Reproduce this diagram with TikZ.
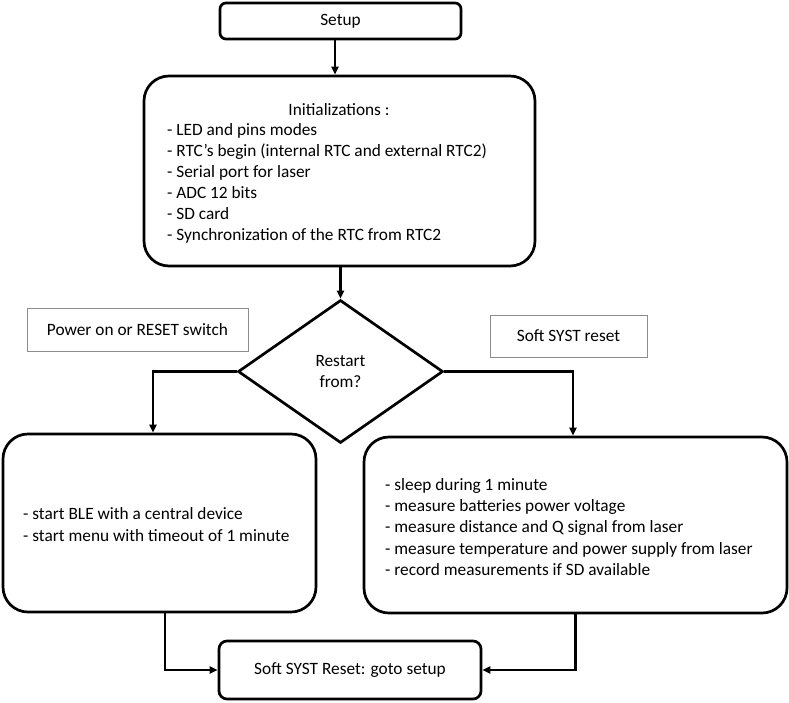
\documentclass[tikz,border=0pt]{standalone}
\usepackage{fontspec}
\setmainfont{Carlito}
\usetikzlibrary{shapes.geometric,arrows.meta}
\begin{document}
\begin{tikzpicture}[x=1pt,y=-1pt,
  every node/.style={font=\fontsize{17.3}{21.1}\selectfont, inner sep=0pt},
  rbox/.style={draw, line width=2.7pt, rounded corners=#1, fill=white},
  gbox/.style={draw=black!45, line width=0.9pt, fill=white},
  dia/.style={draw, line width=2.7pt, shape=diamond, aspect=1.43, minimum width=205pt, minimum height=143pt, align=center, fill=white},
  txt/.style={anchor=west, align=left},
  arr/.style={line width=2.7pt, -{Triangle[length=8pt,width=7pt]}}
]
\useasboundingbox (0,0) rectangle (789,702);

\node[rbox=6pt, minimum width=241pt, minimum height=36pt] (setup) at (340.5,21) {Setup};
\node[rbox=25pt, minimum width=391pt, minimum height=190pt] (init) at (339.5,171) {};
\node (inittitle) at (339,110) {Initializations :};
\node[txt] (initlist) at (167,183.5) {- LED and pins modes\\- RTC’s begin (internal RTC and external RTC2)\\- Serial port for laser\\- ADC 12 bits\\- SD card\\- Synchronization of the RTC from RTC2};

\node[gbox, minimum width=221pt, minimum height=43pt] (power) at (137.5,329.5) {Power on or RESET switch};
\node[gbox, minimum width=157pt, minimum height=42pt] (softlbl) at (568.5,336) {Soft SYST reset};
\node[dia] (dia) at (340.5,371.5) {Restart\\from?};

\node[rbox=25pt, minimum width=313pt, minimum height=178pt] (left) at (159.5,523) {};
\node[txt] (lefttext) at (23,524.5) {- start BLE with a central device\\- start menu with timeout of 1 minute};
\node[rbox=25pt, minimum width=423pt, minimum height=176pt] (right) at (575.5,525) {};
\node[txt] (righttext) at (385,527) {- sleep during 1 minute\\- measure batteries power voltage\\- measure distance and Q signal from laser\\- measure temperature and power supply from laser\\- record measurements if SD available};

\node[rbox=8pt, minimum width=262pt, minimum height=58pt] (goto) at (350,670) {Soft SYST Reset: goto setup};

\draw[arr] ([xshift=-5.5pt]setup.south) -- ([xshift=-5.5pt]setup.south |- init.north);
\draw[arr] (dia.north |- init.south) -- (dia.north);
\draw[arr] (dia.west) -| ([xshift=-6.5pt]left.north);
\draw[arr] (dia.east) -| ([xshift=-2.5pt]right.north);
\draw[arr] ([xshift=5.5pt]left.south) |- (goto.west);
\draw[arr] (right.south) |- (goto.east);
\end{tikzpicture}
\end{document}
